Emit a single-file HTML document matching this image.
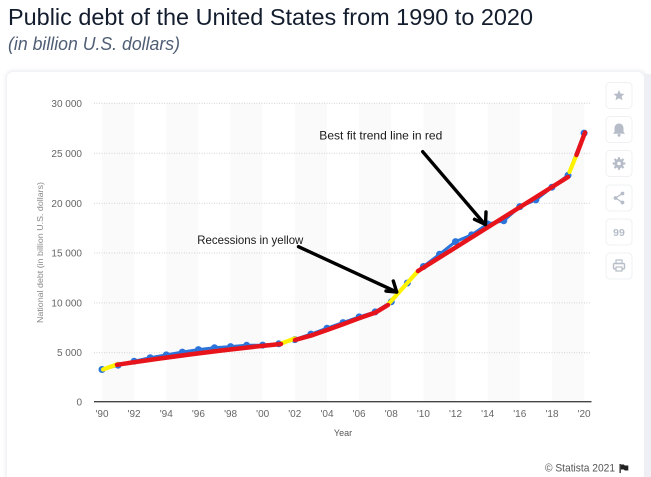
<!DOCTYPE html>
<html><head><meta charset="utf-8"><style>
html,body{margin:0;padding:0;background:#fff;}
svg{display:block;}
</style></head><body>
<svg width="651" height="477" viewBox="0 0 651 477" xmlns="http://www.w3.org/2000/svg" font-family="'Liberation Sans', sans-serif">
  <defs>
    <filter id="sh" x="-5%" y="-5%" width="110%" height="110%">
      <feGaussianBlur stdDeviation="2"/>
    </filter>
  </defs>
  <rect width="651" height="477" fill="#fff"/>
  <!-- card shadow & card -->
  <rect x="6" y="71" width="640" height="420" rx="7" fill="#e6e8ee" filter="url(#sh)"/>
  <rect x="645" y="74" width="6" height="403" fill="#eff0f5"/>
  <rect x="7" y="72" width="637" height="420" rx="6" fill="#fff"/>

  <!-- title -->
  <text x="8" y="25" font-size="23.5" fill="#131d2e" textLength="525" lengthAdjust="spacingAndGlyphs">Public debt of the United States from 1990 to 2020</text>
  <text x="8" y="50" font-size="18" font-style="italic" fill="#4f5e74" textLength="172" lengthAdjust="spacingAndGlyphs">(in billion U.S. dollars)</text>

  <!-- plot bands -->
  <g fill="#fafafb">
    <rect x="102" y="103" width="32.1" height="298.7"/>
    <rect x="166.3" y="103" width="32.1" height="298.7"/>
    <rect x="230.6" y="103" width="32.1" height="298.7"/>
    <rect x="294.8" y="103" width="32.1" height="298.7"/>
    <rect x="359.1" y="103" width="32.1" height="298.7"/>
    <rect x="423.4" y="103" width="32.1" height="298.7"/>
    <rect x="487.7" y="103" width="32.1" height="298.7"/>
    <rect x="552" y="103" width="32.1" height="298.7"/>
  </g>

  <!-- gridlines -->
  <g stroke="#d2d2d2" stroke-width="1" stroke-dasharray="1,1.5">
    <line x1="94" y1="103.3" x2="591" y2="103.3"/>
    <line x1="94" y1="153.3" x2="591" y2="153.3"/>
    <line x1="94" y1="203.2" x2="591" y2="203.2"/>
    <line x1="94" y1="253.0" x2="591" y2="253.0"/>
    <line x1="94" y1="302.9" x2="591" y2="302.9"/>
    <line x1="94" y1="352.7" x2="591" y2="352.7"/>
  </g>
  <line x1="94" y1="401.7" x2="591.5" y2="401.7" stroke="#444" stroke-width="1.4"/>

  <!-- y labels -->
  <g font-size="10" fill="#666" text-anchor="end">
    <text x="82" y="107">30 000</text>
    <text x="82" y="157">25 000</text>
    <text x="82" y="207">20 000</text>
    <text x="82" y="256.5">15 000</text>
    <text x="82" y="306.5">10 000</text>
    <text x="82" y="356">5 000</text>
    <text x="82" y="405.5">0</text>
  </g>
  <text transform="translate(43,252.5) rotate(-90)" font-size="8.5" fill="#888" text-anchor="middle" textLength="141" lengthAdjust="spacingAndGlyphs">National debt (in billion U.S. dollars)</text>

  <!-- x labels -->
  <g font-size="10" fill="#666" text-anchor="middle">
    <text x="102" y="417">'90</text>
    <text x="134.1" y="417">'92</text>
    <text x="166.3" y="417">'94</text>
    <text x="198.4" y="417">'96</text>
    <text x="230.6" y="417">'98</text>
    <text x="262.7" y="417">'00</text>
    <text x="294.8" y="417">'02</text>
    <text x="327" y="417">'04</text>
    <text x="359.1" y="417">'06</text>
    <text x="391.3" y="417">'08</text>
    <text x="423.4" y="417">'10</text>
    <text x="455.5" y="417">'12</text>
    <text x="487.7" y="417">'14</text>
    <text x="519.8" y="417">'16</text>
    <text x="552" y="417">'18</text>
    <text x="584.1" y="417">'20</text>
  </g>
  <text x="343" y="436" font-size="9" fill="#555" text-anchor="middle">Year</text>

  <!-- data series -->
  <polyline fill="none" stroke="#2b74dc" stroke-width="3" stroke-linejoin="round" points="102,369.5 118.07,365.2 134.14,361.2 150.21,357.7 166.28,354.9 182.35,352.1 198.42,349.6 214.49,347.7 230.56,346.6 246.63,345.3 262.7,345.1 278.77,343.8 294.84,339.6 310.91,334.1 326.98,328.2 343.05,322.6 359.12,316.9 375.19,311.9 391.26,301.8 407.33,283 423.4,266.5 439.47,254.3 455.54,241.6 471.61,234.9 487.68,224 503.75,220.8 519.82,206.6 535.89,199.9 551.96,187.2 568.03,175.3 584.1,133.1"/>
  <g fill="#2b74dc">
    <circle cx="102" cy="369.5" r="3.5"/><circle cx="118.07" cy="365.2" r="3.5"/><circle cx="134.14" cy="361.2" r="3.5"/><circle cx="150.21" cy="357.7" r="3.5"/><circle cx="166.28" cy="354.9" r="3.5"/><circle cx="182.35" cy="352.1" r="3.5"/><circle cx="198.42" cy="349.6" r="3.5"/><circle cx="214.49" cy="347.7" r="3.5"/><circle cx="230.56" cy="346.6" r="3.5"/><circle cx="246.63" cy="345.3" r="3.5"/><circle cx="262.7" cy="345.1" r="3.5"/><circle cx="278.77" cy="343.8" r="3.5"/><circle cx="294.84" cy="339.6" r="3.5"/><circle cx="310.91" cy="334.1" r="3.5"/><circle cx="326.98" cy="328.2" r="3.5"/><circle cx="343.05" cy="322.6" r="3.5"/><circle cx="359.12" cy="316.9" r="3.5"/><circle cx="375.19" cy="311.9" r="3.5"/><circle cx="391.26" cy="301.8" r="3.5"/><circle cx="407.33" cy="283" r="3.5"/><circle cx="423.4" cy="266.5" r="3.5"/><circle cx="439.47" cy="254.3" r="3.5"/><circle cx="455.54" cy="241.6" r="3.5"/><circle cx="471.61" cy="234.9" r="3.5"/><circle cx="487.68" cy="224" r="3.5"/><circle cx="503.75" cy="220.8" r="3.5"/><circle cx="519.82" cy="206.6" r="3.5"/><circle cx="535.89" cy="199.9" r="3.5"/><circle cx="551.96" cy="187.2" r="3.5"/><circle cx="568.03" cy="175.3" r="3.5"/><circle cx="584.1" cy="133.1" r="3.5"/>
  </g>

  <!-- yellow recession segments -->
  <g stroke="#fff200" stroke-width="4.2" stroke-linecap="round" fill="none">
    <line x1="103" y1="369.5" x2="118" y2="364"/>
    <line x1="281" y1="343.5" x2="295" y2="338.5"/>
    <line x1="388.5" y1="304" x2="418" y2="271"/>
    <line x1="569.5" y1="172" x2="576.5" y2="155"/>
  </g>
  <!-- red trend segments -->
  <g stroke="#e8141c" stroke-width="4.5" stroke-linecap="round" stroke-linejoin="round" fill="none">
    <path d="M117,364.8 Q200,352 281,344"/>
    <polyline points="295,340 311,335.6 327,330 343,324.2 359,318.3 375,312.8 388,305"/>
    <line x1="418" y1="271" x2="568" y2="177"/>
    <line x1="576.5" y1="155" x2="585" y2="132.5"/>
  </g>

  <!-- annotations -->
  <text x="197.3" y="244" font-size="12" fill="#1a1a1a" textLength="106" lengthAdjust="spacingAndGlyphs">Recessions in yellow</text>
  <text x="319.3" y="139.3" font-size="12" fill="#1a1a1a" textLength="123" lengthAdjust="spacingAndGlyphs">Best fit trend line in red</text>
  <g stroke="#000" stroke-width="3.4" stroke-linecap="round" stroke-linejoin="round" fill="none">
    <line x1="298.5" y1="246.7" x2="396.7" y2="292"/>
    <polyline points="393.3,281 396.7,292 386,291"/>
    <line x1="422.7" y1="151.7" x2="485" y2="224.5"/>
    <polyline points="486,212 485.5,224.5 474.5,219.3"/>
  </g>

  <!-- side buttons -->
  <g fill="#fff" stroke="#eef0f3" stroke-width="1">
    <rect x="606" y="82.5" width="26" height="26" rx="4"/>
    <rect x="606" y="116.5" width="26" height="26" rx="4"/>
    <rect x="606" y="150.5" width="26" height="26" rx="4"/>
    <rect x="606" y="185" width="26" height="26" rx="4"/>
    <rect x="606" y="219" width="26" height="26" rx="4"/>
    <rect x="606" y="253" width="26" height="26" rx="4"/>
  </g>
  <g fill="#b6bdc9">
    <!-- star -->
    <polygon points="619,90 620.6,93.6 624.5,93.9 621.6,96.4 622.5,100.2 619,98.2 615.5,100.2 616.4,96.4 613.5,93.9 617.4,93.6"/>
    <!-- bell -->
    <path d="M619,123.5 c-3,0 -4.5,2.4 -4.5,5 v3.2 l-1.5,2 h12 l-1.5,-2 v-3.2 c0,-2.6 -1.5,-5 -4.5,-5z"/>
    <circle cx="619" cy="135.2" r="1.5"/>
    <!-- gear -->
    <circle cx="619" cy="163.5" r="4.6"/>
    <g stroke="#b6bdc9" stroke-width="2.2">
      <line x1="619" y1="157.2" x2="619" y2="169.8"/>
      <line x1="612.7" y1="163.5" x2="625.3" y2="163.5"/>
      <line x1="614.5" y1="159" x2="623.5" y2="168"/>
      <line x1="623.5" y1="159" x2="614.5" y2="168"/>
    </g>
    <circle cx="619" cy="163.5" r="1.8" fill="#fff"/>
    <!-- share -->
    <circle cx="622.5" cy="193.5" r="1.9"/>
    <circle cx="615.5" cy="198" r="1.9"/>
    <circle cx="622.5" cy="202.5" r="1.9"/>
    <g stroke="#b6bdc9" stroke-width="1.3"><line x1="622.5" y1="193.5" x2="615.5" y2="198"/><line x1="615.5" y1="198" x2="622.5" y2="202.5"/></g>
    <!-- quote -->
    <text x="619" y="236" font-size="10.5" font-weight="bold" text-anchor="middle" fill="#b6bdc9">99</text>
    <!-- print -->
    <rect x="613.5" y="263.5" width="11" height="5.5" rx="1.2" fill="none" stroke="#b6bdc9" stroke-width="1.4"/>
    <rect x="616" y="260" width="6" height="3.5" fill="none" stroke="#b6bdc9" stroke-width="1.2"/>
    <rect x="616" y="267" width="6" height="4" fill="#fff" stroke="#b6bdc9" stroke-width="1.2"/>
  </g>

  <!-- footer -->
  <text x="545" y="471.5" font-size="11" fill="#555" textLength="70" lengthAdjust="spacingAndGlyphs">© Statista 2021</text>
  <g fill="#222">
    <rect x="619.5" y="464" width="1.3" height="9"/>
    <path d="M620.8,464.5 h3 l1,1 h3.5 v5 h-3.5 l-1,-1 h-3z"/>
  </g>
</svg>
</body></html>
